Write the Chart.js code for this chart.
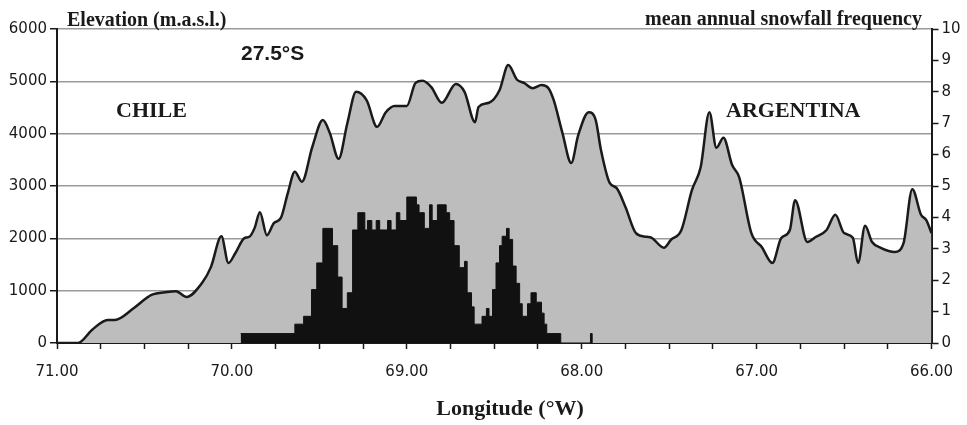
<!DOCTYPE html>
<html>
<head>
<meta charset="utf-8">
<script src="https://cdn.jsdelivr.net/npm/chart.js@4"></script>
<style>
  html, body { margin: 0; padding: 0; background: #fff; }
  #wrap { width: 967px; height: 425px; position: relative; }
</style>
</head>
<body>
<div id="wrap"><canvas id="chart"></canvas></div>
<script>
/* Elevation profile at 27.5°S and mean annual snowfall frequency */

// elevation profile (longitude °W, m a.s.l.)
const elevLon = [71.00, 70.88, 70.80, 70.71, 70.67, 70.56, 70.46, 70.37, 70.32, 70.26,
  70.17, 70.12, 70.06, 70.02, 69.98, 69.93, 69.90, 69.87, 69.84, 69.80,
  69.76, 69.72, 69.68, 69.64, 69.60, 69.54, 69.48, 69.44, 69.39, 69.34,
  69.29, 69.23, 69.17, 69.12, 69.07, 69.00, 68.95, 68.91, 68.86, 68.80,
  68.72, 68.67, 68.61, 68.59, 68.53, 68.47, 68.42, 68.37, 68.33, 68.28,
  68.23, 68.19, 68.16, 68.11, 68.06, 68.02, 67.96, 67.92, 67.89, 67.84,
  67.80, 67.75, 67.69, 67.63, 67.60, 67.53, 67.49, 67.43, 67.37, 67.32,
  67.27, 67.23, 67.19, 67.14, 67.10, 67.03, 66.97, 66.91, 66.86, 66.81,
  66.78, 66.71, 66.66, 66.60, 66.55, 66.50, 66.45, 66.42, 66.38, 66.34,
  66.29, 66.21, 66.16, 66.11, 66.06, 66.03, 66.00];
const elevM = [0, 0, 250, 440, 440, 670, 920, 975, 990, 880,
  1150, 1450, 2040, 1530, 1720, 2000, 2030, 2200, 2500, 2060,
  2290, 2390, 2870, 3270, 3080, 3750, 4260, 4010, 3520, 4200,
  4800, 4640, 4130, 4410, 4530, 4530, 4970, 5010, 4890, 4590,
  4950, 4800, 4220, 4510, 4590, 4830, 5310, 5030, 4970, 4870,
  4930, 4870, 4640, 4010, 3440, 3970, 4410, 4260, 3690, 3060,
  2960, 2600, 2100, 2030, 2010, 1820, 1970, 2160, 2920, 3360,
  4410, 3730, 3920, 3400, 3170, 2100, 1830, 1530, 2000, 2160,
  2730, 1930, 2030, 2160, 2450, 2100, 2010, 1530, 2240, 1930,
  1820, 1740, 1910, 2940, 2450, 2350, 2100];

// snowfall frequency steps (value holds from each longitude eastwards to the next)
const snowLon = [69.95, 69.64, 69.59, 69.545, 69.515, 69.48, 69.425, 69.395, 69.37, 69.34,
  69.31, 69.28, 69.24, 69.225, 69.20, 69.175, 69.155, 69.11, 69.09, 69.06,
  69.04, 69.00, 68.945, 68.93, 68.90, 68.87, 68.855, 68.825, 68.775, 68.755,
  68.73, 68.70, 68.67, 68.655, 68.63, 68.615, 68.57, 68.545, 68.53, 68.51,
  68.49, 68.47, 68.455, 68.43, 68.415, 68.395, 68.375, 68.355, 68.34, 68.31,
  68.29, 68.26, 68.23, 68.215, 68.20, 68.12, 67.95, 67.94];
const snowFreq = [0.3, 0.6, 0.85, 1.7, 2.55, 3.65, 3.1, 2.1, 1.1, 1.6,
  3.6, 4.15, 3.6, 3.9, 3.6, 3.9, 3.6, 3.9, 3.6, 4.15,
  3.9, 4.65, 4.4, 4.15, 3.65, 4.4, 3.9, 4.4, 4.15, 3.9,
  3.1, 2.4, 2.6, 1.6, 1.15, 0.6, 0.85, 1.1, 0.85, 1.7,
  2.55, 3.1, 3.4, 3.65, 3.3, 2.45, 1.9, 1.25, 0.85, 1.25,
  1.6, 1.3, 0.95, 0.6, 0.3, 0, 0.3, 0];

const SERIF = '"Liberation Serif", "Times New Roman", serif';
const SANS  = '"Liberation Sans", Arial, sans-serif';
const TICK_FONT = { family: '"DejaVu Sans", sans-serif', size: 15 };
const INK = '#1a1a1a';

function xLabel(v) {
  return Math.abs(v - Math.round(v)) < 1e-6 ? v.toFixed(2) : '';
}

/* ---- text on the figure ---- */
const annotate = {
  id: 'annotate',
  afterDraw(chart) {
    const ctx = chart.ctx;
    ctx.save();
    ctx.fillStyle = INK;
    ctx.textBaseline = 'alphabetic';
    ctx.textAlign = 'left';

    ctx.font = 'bold 20px ' + SERIF;
    ctx.fillText('Elevation (m.a.s.l.)', 67, 26);
    ctx.fillText('mean annual snowfall frequency', 645, 25);

    ctx.font = 'bold 21px ' + SANS;
    ctx.fillText('27.5°S', 241, 60);

    ctx.font = 'bold 22px ' + SERIF;
    ctx.fillText('CHILE', 116, 117);
    ctx.fillText('ARGENTINA', 726, 117);

    ctx.textAlign = 'center';
    ctx.fillText('Longitude (°W)', 510, 415);
    ctx.restore();
  }
};

new Chart(document.getElementById('chart'), {
  type: 'line',
  data: {
    datasets: [
      {
        label: 'snowfall frequency',
        data: snowLon.map((x, i) => ({ x, y: snowFreq[i] })),
        yAxisID: 'y1',
        stepped: 'before',
        fill: 'origin',
        backgroundColor: '#111',
        borderColor: '#111',
        borderWidth: 1,
        pointRadius: 0,
        order: 0
      },
      {
        label: 'elevation',
        data: elevLon.map((x, i) => ({ x, y: elevM[i] })),
        yAxisID: 'y',
        fill: 'origin',
        backgroundColor: '#bdbdbd',
        borderColor: INK,
        borderWidth: 2.5,
        pointRadius: 0,
        cubicInterpolationMode: 'monotone',
        order: 1
      }
    ]
  },
  options: {
    responsive: true,
    maintainAspectRatio: false,
    animation: false,
    layout: { padding: { top: 29, left: 0, right: 0, bottom: 0 } },
    plugins: {
      legend: { display: false },
      tooltip: { enabled: false }
    },
    scales: {
      x: {
        type: 'linear',
        reverse: true,
        min: 66,
        max: 71,
        afterFit: s => { s.height = 82; },
        border: { color: INK, width: 2 },
        grid: { drawOnChartArea: false, drawTicks: true, tickLength: 6, tickColor: INK, tickWidth: 1.5 },
        ticks: {
          stepSize: 0.25,
          autoSkip: false,
          maxRotation: 0,
          padding: 14,
          color: INK,
          font: TICK_FONT,
          callback: v => xLabel(v)
        }
      },
      y: {
        position: 'left',
        min: 0,
        max: 6000,
        afterFit: s => { s.width = 57; },
        border: { color: INK, width: 2 },
        grid: { color: '#9a9a9a', lineWidth: 1.5, tickLength: 7, tickColor: INK, tickWidth: 1.5 },
        ticks: {
          stepSize: 1000,
          padding: 3,
          color: INK,
          font: TICK_FONT,
          callback: v => String(v)
        }
      },
      y1: {
        position: 'right',
        min: 0,
        max: 10,
        afterFit: s => { s.width = 34; },
        border: { color: INK, width: 2 },
        grid: { drawOnChartArea: false, tickLength: 7, tickColor: INK, tickWidth: 1.5 },
        ticks: {
          stepSize: 1,
          padding: 3,
          color: INK,
          font: TICK_FONT,
          callback: v => String(v)
        }
      }
    }
  },
  plugins: [annotate]
});
</script>
</body>
</html>
